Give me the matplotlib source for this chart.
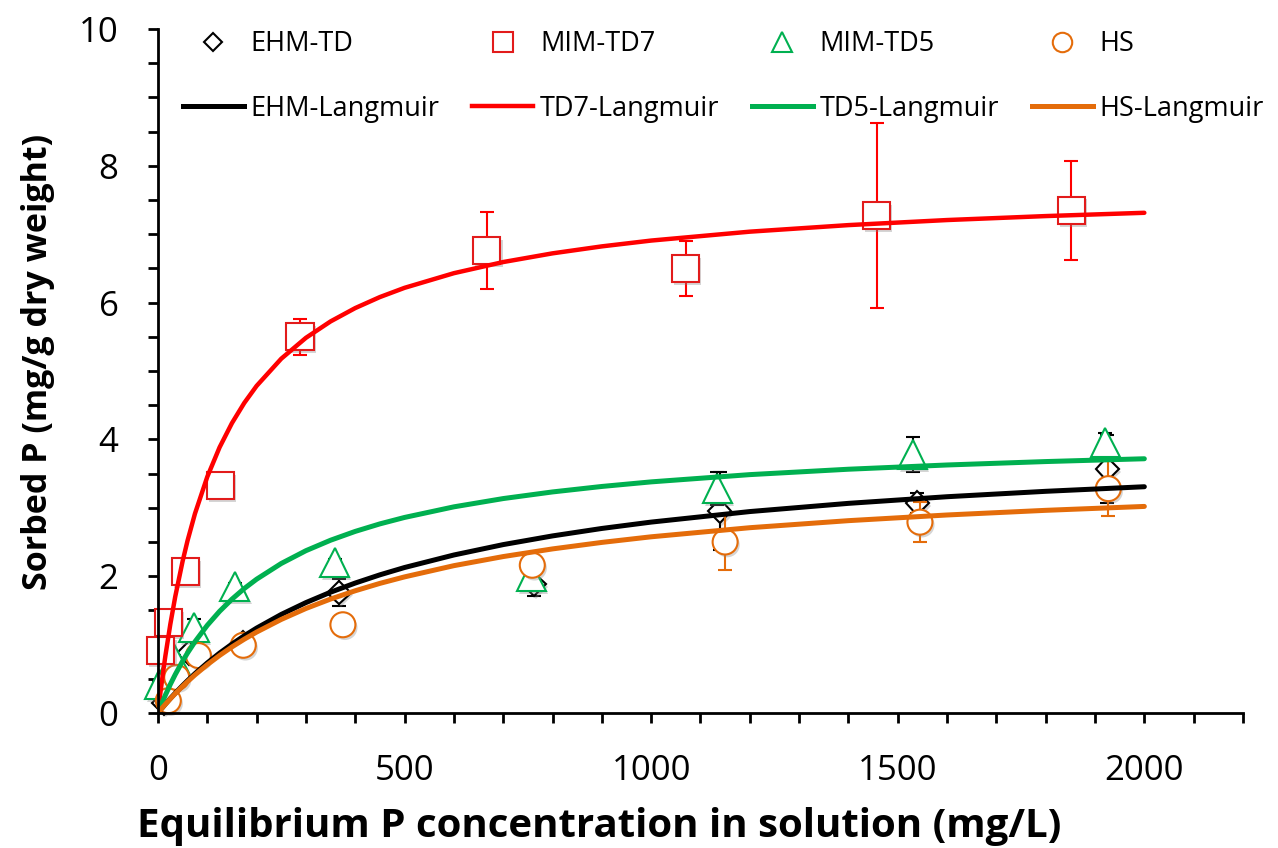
import matplotlib
matplotlib.use("Agg")
import matplotlib.pyplot as plt
import matplotlib.patheffects as pe
from matplotlib.lines import Line2D
from matplotlib.ticker import MultipleLocator

plt.rcParams['font.family'] = ['Open Sans', 'DejaVu Sans']

# measured points (x = equilibrium conc, y = sorbed P, err = std)
ehm_x = [12, 40, 62, 172, 367, 762, 1139, 1540, 1925]
ehm_y = [0.15, 0.55, 0.88, 1.02, 1.76, 1.88, 2.95, 3.07, 3.57]
ehm_err = [0.03, 0.05, 0.05, 0.05, 0.20, 0.17, 0.57, 0.15, 0.50]

td7_x = [6, 22, 56, 126, 288, 667, 1070, 1457, 1852]
td7_y = [0.91, 1.32, 2.07, 3.32, 5.50, 6.76, 6.50, 7.27, 7.35]
td7_err = [0.05, 0.05, 0.05, 0.05, 0.26, 0.56, 0.40, 1.35, 0.72]

td5_x = [3, 33, 73, 156, 358, 757, 1134, 1530, 1921]
td5_y = [0.42, 0.80, 1.25, 1.85, 2.20, 2.00, 3.28, 3.78, 3.95]
td5_err = [0.05, 0.05, 0.12, 0.05, 0.05, 0.05, 0.24, 0.25, 0.14]

hs_x = [21, 38, 82, 173, 375, 759, 1150, 1545, 1927]
hs_y = [0.18, 0.52, 0.84, 0.99, 1.29, 2.16, 2.50, 2.79, 3.28]
hs_err = [0.03, 0.03, 0.05, 0.05, 0.05, 0.10, 0.41, 0.29, 0.40]

# Langmuir curves
fit_x = [0, 5, 10, 15, 25, 35, 50, 60, 75, 100, 125, 150, 175, 200, 250, 300, 350,
         400, 450, 500, 600, 700, 800, 900, 1000, 1200, 1400, 1600, 1800, 2000]
ehm_fit = [0, 0.044, 0.087, 0.130, 0.212, 0.290, 0.402, 0.473, 0.575, 0.732, 0.876,
           1.007, 1.129, 1.241, 1.441, 1.614, 1.766, 1.900, 2.020, 2.127, 2.310, 2.462,
           2.589, 2.698, 2.791, 2.945, 3.065, 3.162, 3.241, 3.308]
td7_fit = [0, 0.299, 0.576, 0.833, 1.295, 1.700, 2.220, 2.520, 2.914, 3.453, 3.885,
           4.238, 4.533, 4.782, 5.180, 5.485, 5.725, 5.920, 6.081, 6.216, 6.430, 6.593,
           6.720, 6.822, 6.907, 7.037, 7.133, 7.207, 7.265, 7.313]
td5_fit = [0, 0.091, 0.178, 0.261, 0.418, 0.562, 0.759, 0.878, 1.042, 1.282, 1.487,
           1.664, 1.820, 1.956, 2.186, 2.373, 2.526, 2.655, 2.765, 2.859, 3.014, 3.135,
           3.232, 3.312, 3.379, 3.485, 3.564, 3.626, 3.676, 3.717]
hs_fit = [0, 0.043, 0.086, 0.127, 0.207, 0.283, 0.391, 0.459, 0.557, 0.706, 0.842,
          0.966, 1.079, 1.183, 1.368, 1.528, 1.666, 1.787, 1.895, 1.990, 2.154, 2.287,
          2.399, 2.494, 2.576, 2.709, 2.812, 2.895, 2.963, 3.020]

RED = '#FF0000'
GREEN = '#00B050'
ORANGE = '#E46C0A'

fig = plt.figure(figsize=(12.78, 8.48), dpi=100)
ax = fig.add_axes([0.1236, 0.1592, 0.849, 0.8066])

shadow = [pe.SimplePatchShadow(offset=(1.5, -2), shadow_rgbFace='#888888', alpha=0.35), pe.Normal()]

ax.errorbar(ehm_x, ehm_y, yerr=ehm_err, fmt='D', ms=12, mfc='white', mec='black', mew=1.5,
            ecolor='black', elinewidth=1.5, capsize=5, capthick=1.5, zorder=3)
ax.errorbar(td5_x, td5_y, yerr=td5_err, fmt='^', ms=21, mfc='white', mec=GREEN, mew=1.5,
            ecolor='black', elinewidth=1.5, capsize=5, capthick=1.5, zorder=4)
ax.errorbar(hs_x, hs_y, yerr=hs_err, fmt='o', ms=18, mfc='white', mec=ORANGE, mew=1.5,
            ecolor=ORANGE, elinewidth=1.5, capsize=5, capthick=1.5, zorder=5)
ax.errorbar(td7_x, td7_y, yerr=td7_err, fmt='s', ms=19.5, mfc='white', mec='#E21B1B', mew=1.5,
            ecolor=RED, elinewidth=1.5, capsize=5, capthick=1.5, zorder=6)
for ln in ax.lines:
    ln.set_clip_on(False)
    if ln.get_marker() not in (None, 'None', '', '_'):
        ln.set_path_effects(shadow)

for ys, col, lw in [(ehm_fit, 'black', 3.6), (td7_fit, RED, 3.2),
                    (td5_fit, GREEN, 3.6), (hs_fit, ORANGE, 3.6)]:
    ax.plot(fit_x, ys, color=col, lw=lw, solid_capstyle='round',
            solid_joinstyle='round', zorder=7)

ax.set_xlim(0, 2200)
ax.set_ylim(0, 10)
ax.xaxis.set_major_locator(MultipleLocator(500))
ax.xaxis.set_minor_locator(MultipleLocator(100))
ax.yaxis.set_major_locator(MultipleLocator(2))
ax.yaxis.set_minor_locator(MultipleLocator(0.5))
ax.spines['top'].set_visible(False)
ax.spines['right'].set_visible(False)
for s in ('left', 'bottom'):
    ax.spines[s].set_linewidth(2)
    ax.spines[s].set_zorder(10)
ax.tick_params(which='both', direction='out', length=7.5, width=2)
ax.tick_params(axis='x', which='major', pad=22, labelsize=25)
ax.tick_params(axis='y', which='major', pad=21, labelsize=25)

fig.text(599 / 1278, 1 - 826 / 848, 'Equilibrium P concentration in solution (mg/L)',
         ha='center', va='center', fontsize=29, fontweight='bold')
fig.text(38 / 1278, 1 - 362 / 848, 'Sorbed P (mg/g dry weight)', rotation=90,
         ha='center', va='center', fontsize=24.5, fontweight='bold')

handles = [
    Line2D([], [], ls='none', marker='D', ms=9, mfc='white', mec='black', mew=1.5),
    Line2D([], [], color='black', lw=3.6),
    Line2D([], [], ls='none', marker='s', ms=15, mfc='white', mec='#E21B1B', mew=1.5),
    Line2D([], [], color=RED, lw=3.2),
    Line2D([], [], ls='none', marker='^', ms=15, mfc='white', mec=GREEN, mew=1.5),
    Line2D([], [], color=GREEN, lw=3.6),
    Line2D([], [], ls='none', marker='o', ms=14, mfc='white', mec=ORANGE, mew=1.5),
    Line2D([], [], color=ORANGE, lw=3.6),
]
labels = ['EHM-TD', 'EHM-Langmuir', 'MIM-TD7', 'TD7-Langmuir',
          'MIM-TD5', 'TD5-Langmuir', 'HS', 'HS-Langmuir']
ax.legend(handles, labels, ncol=4, loc='upper left', bbox_to_anchor=(183 / 1278, 1 - 30 / 848),
          bbox_transform=fig.transFigure, frameon=False, fontsize=19.5, handlelength=2.25,
          handletextpad=0.25, columnspacing=1.2, labelspacing=1.35, borderpad=0, borderaxespad=0)

fig.savefig('out.png', dpi=100)
